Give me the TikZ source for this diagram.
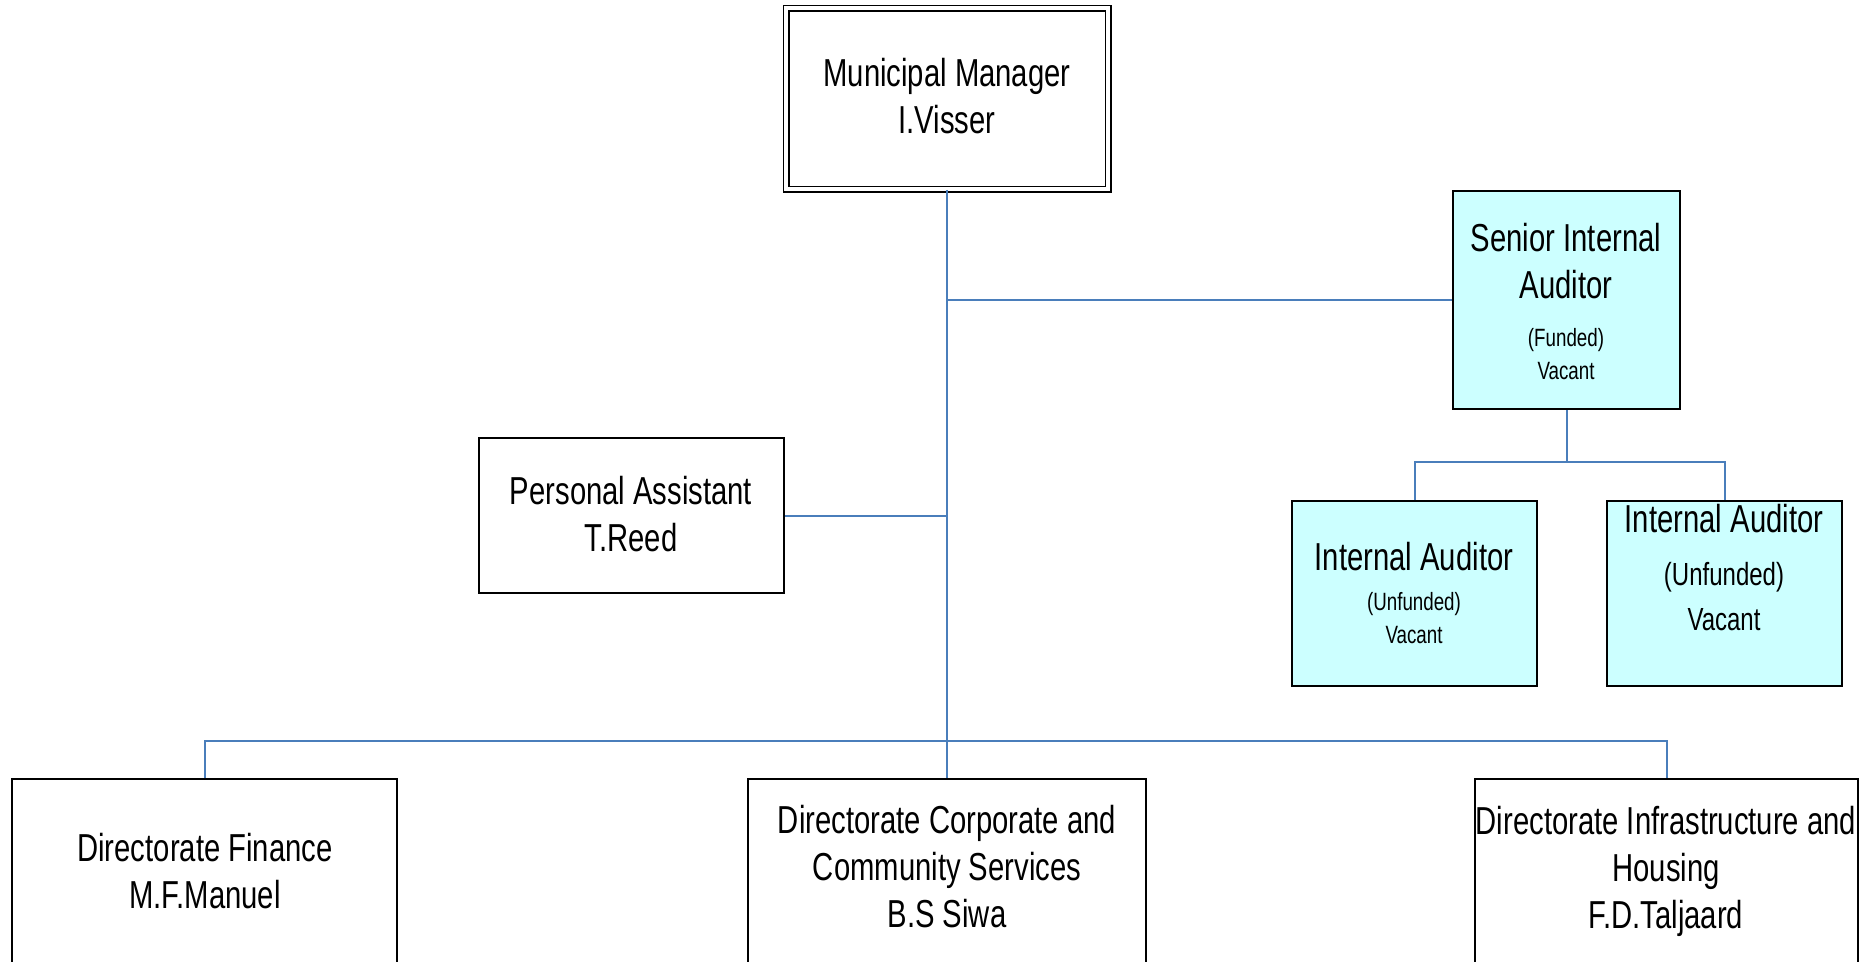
\documentclass[tikz,border=0pt]{standalone}
\usepackage{fontspec}
\setmainfont{Liberation Sans}[FakeStretch=0.75]
\definecolor{linkblue}{HTML}{4A7EBB}
\definecolor{audfill}{HTML}{CCFFFF}
\begin{document}
\begin{tikzpicture}[x=1pt,y=-1pt,
  box/.style={draw=black, line width=2pt, inner sep=0pt},
  mmbox/.style={draw=black, line width=1.8pt, double=white, double distance=3.4pt, inner sep=0pt},
  aud/.style={box, fill=audfill},
  conn/.style={draw=linkblue, line width=2pt},
  big/.style={font=\fontsize{39}{47}\selectfont, align=center, inner sep=0pt, anchor=north},
  small/.style={font=\fontsize{25}{33}\selectfont, align=center, inner sep=0pt, anchor=north},
  mid/.style={font=\fontsize{32}{45}\selectfont, align=center, inner sep=0pt, anchor=north}]
\path[use as bounding box, clip] (0,0) rectangle (1868,961);
\fill[white] (0,0) rectangle (1868,961);

% boxes
\node[mmbox, minimum width=322pt, minimum height=181pt] (mm) at (947,98.5) {};
\node[aud, minimum width=227pt, minimum height=218pt] (sia) at (1566.5,300) {};
\node[box, minimum width=305pt, minimum height=155pt] (pa) at (631.5,515.5) {};
\node[aud, minimum width=245pt, minimum height=185pt] (ia1) at (1414.5,593.5) {};
\node[aud, minimum width=235pt, minimum height=185pt] (ia2) at (1724.5,593.5) {};
\node[box, minimum width=385pt, minimum height=321pt] (df) at (204.5,939.5) {};
\node[box, minimum width=398pt, minimum height=321pt] (dccs) at (947,939.5) {};
\node[box, minimum width=383pt, minimum height=321pt] (dih) at (1666.5,939.5) {};

% texts
\node[big] (mmt) at (947,58) {Municipal Manager\\I.Visser};
\node[big] (siat) at (1566,223) {Senior Internal\\Auditor};
\node[small] (sias) at (1566,328) {(Funded)\\Vacant};
\node[big] (pat) at (631,476) {Personal Assistant\\T.Reed\rule[-2pt]{0pt}{2pt}};
\node[big] (ia1t) at (1414,542) {Internal Auditor};
\node[small] (ia1s) at (1414,592) {(Unfunded)\\Vacant};
\node[big] (ia2t) at (1724,504) {Internal Auditor};
\node[mid] (ia2s) at (1724,562) {(Unfunded)\\Vacant};
\node[big] (dft) at (205,833) {Directorate Finance\\M.F.Manuel};
\node[big] (dccst) at (947,805) {Directorate Corporate and\\Community Services\\B.S Siwa};
\node[big] (diht) at (1666,806) {Directorate Infrastructure and\\Housing\\F.D.Taljaard};

% connectors
\coordinate (j1) at (947,300);
\coordinate (bus) at (947,741);
\coordinate (abus) at (1566.5,462);
\draw[conn] (mm.south) -- (dccs.north);
\draw[conn] (j1) -- (sia.west);
\draw[conn] (pa.east) -- (pa.east -| mm.south);
\draw[conn] (df.north) |- (bus) -| (dih.north);
\draw[conn] (sia.south) -- (abus);
\draw[conn] (ia1.north) |- (abus) -| (ia2.north);
\end{tikzpicture}
\end{document}
